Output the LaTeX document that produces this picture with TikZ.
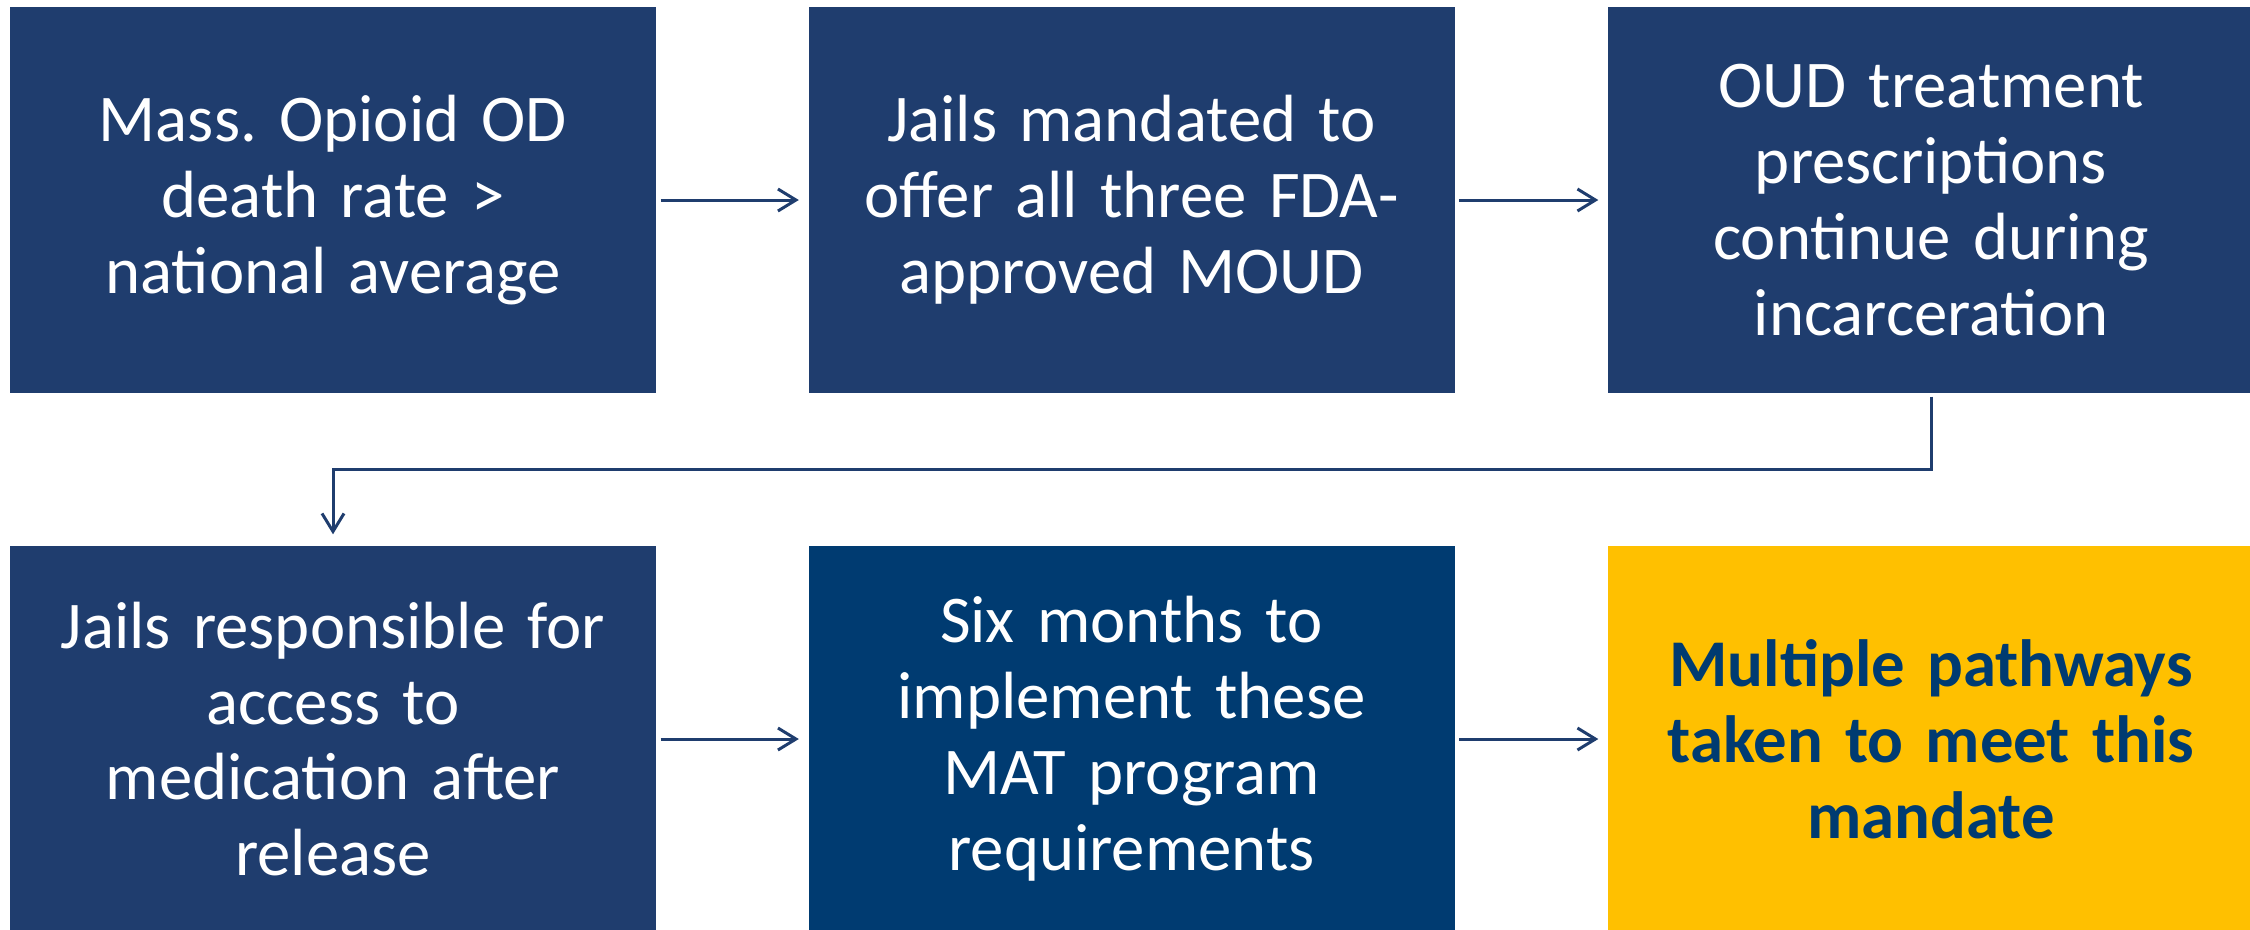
\documentclass[tikz,border=0pt]{standalone}
\usepackage{fontspec}
\setmainfont{Carlito}
\usepackage{tikz}
\usetikzlibrary{positioning,arrows.meta}

\definecolor{navy}{RGB}{31,61,110}
\definecolor{deepblue}{RGB}{0,59,113}
\definecolor{gold}{RGB}{255,192,0}

\frenchspacing

\begin{document}
\begin{tikzpicture}[
    box/.style={rectangle,fill=navy,text=white,minimum width=6.46cm,minimum height=3.86cm,
      inner sep=0pt,text width=6.2cm,align=center,font=\fontsize{19}{21.6}\selectfont},
    flow/.style={draw=navy,line width=0.85pt,-{Straight Barb[length=1.8mm,width=2.2mm]}}
  ]
\useasboundingbox (0,0) rectangle (22.5,-9.29);

% Top row
\node[box] (death) at (3.33,-2.00) {Mass. Opioid OD\\ death rate >\\ national average};
\node[box] (mandate) at (11.315,-2.00) {Jails mandated to\\ offer all three FDA-\\ approved MOUD};
\node[box] (oud) at (19.31,-2.00) {OUD treatment\\ prescriptions\\ continue during\\ incarceration};

% Bottom row
\node[box] (release) at (3.33,-7.39) {Jails responsible for\\ access to\\ medication after\\ release};
\node[box,fill=deepblue] (sixmonths) at (11.315,-7.39) {Six months to\\ implement these\\ MAT program\\ requirements};
\node[box,fill=gold,text=deepblue,font=\fontsize{19}{21.6}\selectfont\bfseries] (pathways) at (19.31,-7.39) {Multiple pathways\\ taken to meet this\\ mandate};

% Arrows
\draw[flow,shorten <=0.04cm,shorten >=0.09cm] (death.east) -- (mandate.west);
\draw[flow,shorten <=0.04cm,shorten >=0.09cm] (mandate.east) -- (oud.west);
\draw[flow,shorten <=0.03cm,shorten >=0.11cm] (oud.south) -- ++(0,-0.76) -| (release.north);
\draw[flow,shorten <=0.04cm,shorten >=0.09cm] (release.east) -- (sixmonths.west);
\draw[flow,shorten <=0.04cm,shorten >=0.09cm] (sixmonths.east) -- (pathways.west);
\end{tikzpicture}
\end{document}
